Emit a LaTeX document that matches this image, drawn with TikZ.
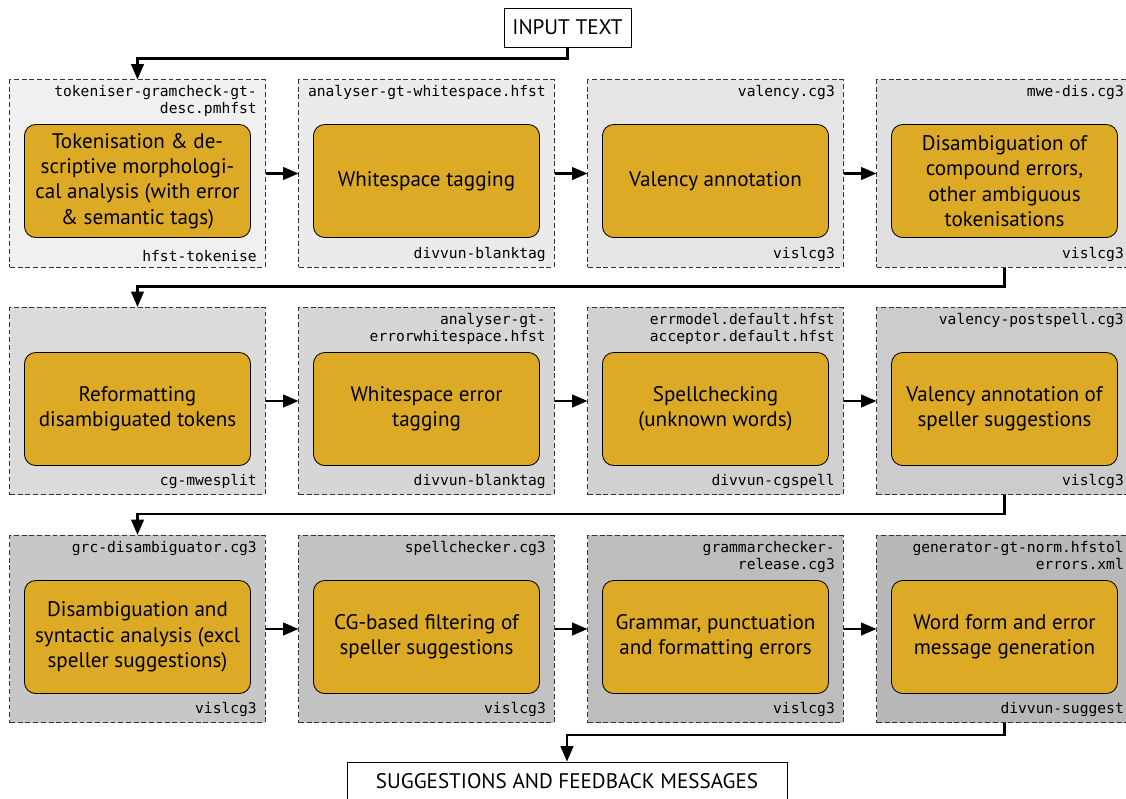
\documentclass[tikz,border=0pt]{standalone}
\usepackage{fontspec}
\setmainfont{PT Sans}
\setmonofont{DejaVu Sans Mono}
\usetikzlibrary{arrows.meta,positioning}
\definecolor{taskgold}{RGB}{220,170,36}

\begin{document}
\begin{tikzpicture}[x=0.025cm, y=-0.025cm, >={Triangle[length=11pt,width=9pt]},
    stage/.style={draw=black!80, dash pattern=on 3.5pt off 2pt, line width=0.7pt, minimum width=6.375cm, minimum height=4.675cm, inner sep=0pt},
    task/.style={draw=black, line width=0.6pt, rounded corners=8pt, fill=taskgold, minimum width=5.65cm, minimum height=2.825cm, align=center, inner sep=2pt, font=\fontsize{15}{18}\selectfont},
    tool/.style={align=right, inner sep=2pt, font=\fontsize{10.4}{12.2}\selectfont\ttfamily},
    io/.style={draw=black, line width=0.6pt, fill=white, minimum height=0.975cm, inner xsep=6pt, font=\fontsize{15}{18}\selectfont},
    flow/.style={->, line width=1.6pt}]
    \useasboundingbox (0,0) rectangle (1126,798);
    % Input
    \node[io] (input) at (567.5,27.5) {INPUT TEXT};
    % Row 1
    \node[stage, fill=black!6] (s1) at (137.5,173.5) {};
    \node[stage, fill=black!8] (s2) at (426.5,173.5) {};
    \node[stage, fill=black!10] (s3) at (715.5,173.5) {};
    \node[stage, fill=black!12] (s4) at (1004.5,173.5) {};
    \node[task] (t1) at (137.5,181) {Tokenisation \& de-\\scriptive morphologi-\\cal analysis (with error\\\& semantic tags)};
    \node[task] (t2) at (426.5,181) {Whitespace tagging};
    \node[task] (t3) at (715.5,181) {Valency annotation};
    \node[task] (t4) at (1004.5,181) {Disambiguation of\\compound errors,\\other ambiguous\\tokenisations};
    \node[tool, anchor=north east] (f1) at ([xshift=-4pt,yshift=-2pt]s1.north east) {tokeniser-gramcheck-gt-\\desc.pmhfst};
    \node[tool, anchor=north east] (f2) at ([xshift=-4pt,yshift=-2pt]s2.north east) {analyser-gt-whitespace.hfst};
    \node[tool, anchor=north east] (f3) at ([xshift=-4pt,yshift=-2pt]s3.north east) {valency.cg3};
    \node[tool, anchor=north east] (f4) at ([xshift=-4pt,yshift=-2pt]s4.north east) {mwe-dis.cg3};
    \node[tool, anchor=south east] (p1) at ([xshift=-4pt,yshift=2pt]s1.south east) {hfst-tokenise};
    \node[tool, anchor=south east] (p2) at ([xshift=-4pt,yshift=2pt]s2.south east) {divvun-blanktag};
    \node[tool, anchor=south east] (p3) at ([xshift=-4pt,yshift=2pt]s3.south east) {vislcg3};
    \node[tool, anchor=south east] (p4) at ([xshift=-4pt,yshift=2pt]s4.south east) {vislcg3};
    % Row 2
    \node[stage, fill=black!14] (s5) at (137.5,401) {};
    \node[stage, fill=black!16] (s6) at (426.5,401) {};
    \node[stage, fill=black!18] (s7) at (715.5,401) {};
    \node[stage, fill=black!20] (s8) at (1004.5,401) {};
    \node[task] (t5) at (137.5,409) {Reformatting\\disambiguated tokens};
    \node[task] (t6) at (426.5,409) {Whitespace error\\tagging};
    \node[task] (t7) at (715.5,409) {Spellchecking\\(unknown words)};
    \node[task] (t8) at (1004.5,409) {Valency annotation of\\speller suggestions};
    \node[tool, anchor=north east] (f6) at ([xshift=-4pt,yshift=-2pt]s6.north east) {analyser-gt-\\errorwhitespace.hfst};
    \node[tool, anchor=north east] (f7) at ([xshift=-4pt,yshift=-2pt]s7.north east) {errmodel.default.hfst\\acceptor.default.hfst};
    \node[tool, anchor=north east] (f8) at ([xshift=-4pt,yshift=-2pt]s8.north east) {valency-postspell.cg3};
    \node[tool, anchor=south east] (p5) at ([xshift=-4pt,yshift=2pt]s5.south east) {cg-mwesplit};
    \node[tool, anchor=south east] (p6) at ([xshift=-4pt,yshift=2pt]s6.south east) {divvun-blanktag};
    \node[tool, anchor=south east] (p7) at ([xshift=-4pt,yshift=2pt]s7.south east) {divvun-cgspell};
    \node[tool, anchor=south east] (p8) at ([xshift=-4pt,yshift=2pt]s8.south east) {vislcg3};
    % Row 3
    \node[stage, fill=black!22] (s9) at (137.5,629) {};
    \node[stage, fill=black!24] (s10) at (426.5,629) {};
    \node[stage, fill=black!26] (s11) at (715.5,629) {};
    \node[stage, fill=black!28] (s12) at (1004.5,629) {};
    \node[task] (t9) at (137.5,637) {Disambiguation and\\syntactic analysis (excl\\speller suggestions)};
    \node[task] (t10) at (426.5,637) {CG-based filtering of\\speller suggestions};
    \node[task] (t11) at (715.5,637) {Grammar, punctuation\\and formatting errors};
    \node[task] (t12) at (1004.5,637) {Word form and error\\message generation};
    \node[tool, anchor=north east] (f9) at ([xshift=-4pt,yshift=-2pt]s9.north east) {grc-disambiguator.cg3};
    \node[tool, anchor=north east] (f10) at ([xshift=-4pt,yshift=-2pt]s10.north east) {spellchecker.cg3};
    \node[tool, anchor=north east] (f11) at ([xshift=-4pt,yshift=-2pt]s11.north east) {grammarchecker-\\release.cg3};
    \node[tool, anchor=north east] (f12) at ([xshift=-4pt,yshift=-2pt]s12.north east) {generator-gt-norm.hfstol\\errors.xml};
    \node[tool, anchor=south east] (p9) at ([xshift=-4pt,yshift=2pt]s9.south east) {vislcg3};
    \node[tool, anchor=south east] (p10) at ([xshift=-4pt,yshift=2pt]s10.south east) {vislcg3};
    \node[tool, anchor=south east] (p11) at ([xshift=-4pt,yshift=2pt]s11.south east) {vislcg3};
    \node[tool, anchor=south east] (p12) at ([xshift=-4pt,yshift=2pt]s12.south east) {divvun-suggest};
    % Output
    \node[io, minimum width=11cm] (output) at (567,781.5) {SUGGESTIONS AND FEEDBACK MESSAGES};
    % Flow
    \draw[flow] (input.south) -- ++(0,11) -| (s1.north);
    \draw[flow] (s1) -- (s2);
    \draw[flow] (s2) -- (s3);
    \draw[flow] (s3) -- (s4);
    \draw[flow] (s4.south) -- ++(0,19) -| (s5.north);
    \draw[flow] (s5) -- (s6);
    \draw[flow] (s6) -- (s7);
    \draw[flow] (s7) -- (s8);
    \draw[flow] (s8.south) -- ++(0,19) -| (s9.north);
    \draw[flow] (s9) -- (s10);
    \draw[flow] (s10) -- (s11);
    \draw[flow] (s11) -- (s12);
    \draw[flow] (s12.south) -- ++(0,12) -| (output.north);
\end{tikzpicture}
\end{document}
